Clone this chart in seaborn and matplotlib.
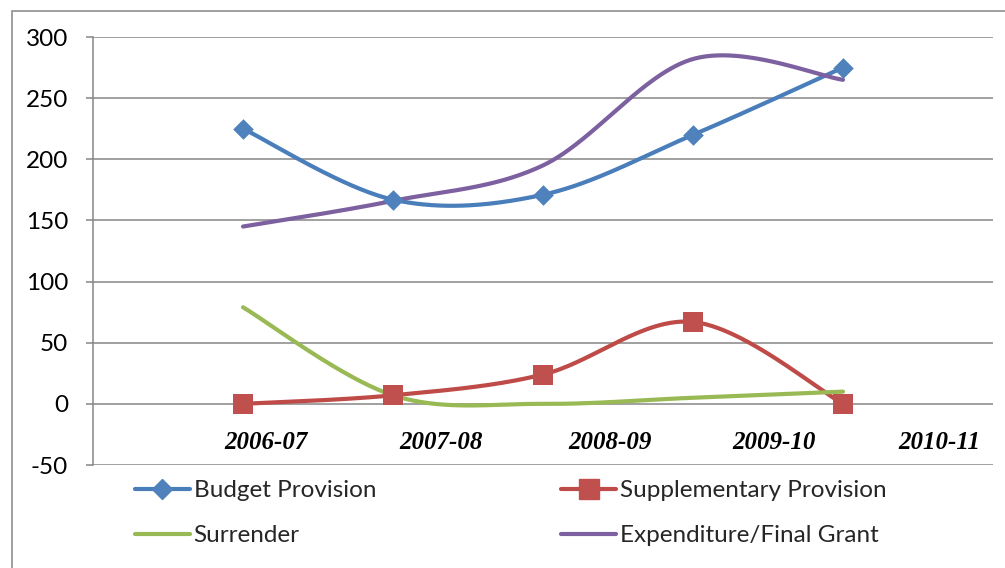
import numpy as np
import matplotlib
matplotlib.use("Agg")
import matplotlib.pyplot as plt
from matplotlib.lines import Line2D
from matplotlib.patches import Rectangle
import seaborn as sns

# Year labels and the four series (Rs. in crore)
years = ["2006-07", "2007-08", "2008-09", "2009-10", "2010-11"]
budget_provision = [225, 167, 171, 220, 275]
supplementary_provision = [0, 7, 24, 67, 0]
surrender = [79, 7, 0, 5, 10]
expenditure_final_grant = [145, 166, 195, 282, 265]

y_ticks = [-50, 0, 50, 100, 150, 200, 250, 300]


def smooth_curve(xs, ys, n=60):
    """Bezier smoothing through every point (Catmull-Rom style)."""
    pts = np.column_stack([xs, ys]).astype(float)
    ext = np.vstack([pts[0], pts, pts[-1]])
    t = np.linspace(0, 1, n)[:, None]
    segs = []
    for i in range(len(pts) - 1):
        p0, p1, p2, p3 = ext[i], ext[i + 1], ext[i + 2], ext[i + 3]
        c1 = p1 + (p2 - p0) / 6.0
        c2 = p2 - (p3 - p1) / 6.0
        seg = ((1 - t) ** 3) * p1 + 3 * ((1 - t) ** 2) * t * c1 \
            + 3 * (1 - t) * t ** 2 * c2 + t ** 3 * p2
        segs.append(seg if i == 0 else seg[1:])
    out = np.vstack(segs)
    return out[:, 0], out[:, 1]


sns.set_style("white")
plt.rcParams["font.family"] = ["Lato", "DejaVu Sans"]

W, H = 1005, 568
fig = plt.figure(figsize=(W / 100, H / 100), dpi=100)
ax = fig.add_axes([93 / W, 1 - 465 / H, (993 - 93) / W, (465 - 37) / H])

grid_col = "#868686"
xpos = np.arange(1, len(budget_provision) + 1)

series = [
    ("Budget Provision", budget_provision, "#4A7EBB", "#4F81BD", "D", 10.5),
    ("Supplementary Provision", supplementary_provision, "#BE4B48", "#C0504D", "s", 14),
    ("Surrender", surrender, "#98B954", None, None, 0),
    ("Expenditure/Final Grant", expenditure_final_grant, "#7D60A0", None, None, 0),
]

handles = {}
for name, vals, lc, mc, mk, ms in series:
    sx, sy = smooth_curve(xpos, vals)
    sns.lineplot(x=sx, y=sy, sort=False, estimator=None, color=lc,
                 linewidth=3.0, ax=ax, zorder=3)
    if mk is not None:
        sns.scatterplot(x=xpos, y=vals, marker=mk, s=ms ** 2, color=mc,
                        edgecolor=mc, linewidth=0, ax=ax, zorder=4)
    handles[name] = Line2D([], [], color=lc, linewidth=3.0, marker=mk,
                           markersize=ms, markerfacecolor=mc,
                           markeredgecolor=mc, solid_capstyle="round")

ax.set_xlim(0, 6)
ax.set_ylim(-50, 300)
ax.set_yticks(y_ticks)
ax.set_yticklabels([str(v) for v in y_ticks])
ax.set_xticks([])
ax.yaxis.grid(True, color=grid_col, linewidth=1.1)
ax.set_axisbelow(True)
for side in ["top", "right", "bottom"]:
    ax.spines[side].set_visible(False)
ax.spines["left"].set_color(grid_col)
ax.spines["left"].set_linewidth(1.1)
ax.tick_params(axis="y", length=5, width=1.1, color=grid_col, pad=13,
               labelsize=17.5, labelcolor="black", left=True)

# Year labels sit just above the -50 line
label_x = [1.153, 2.32, 3.45, 4.54, 5.64]
for lx, yr in zip(label_x, years):
    ax.text(lx, -32, yr, ha="center", va="center", fontsize=18,
            fontweight="bold", fontstyle="italic",
            family=["Liberation Serif", "DejaVu Serif"], color="black")

order = ["Budget Provision", "Surrender", "Supplementary Provision",
         "Expenditure/Final Grant"]
leg = fig.legend([handles[k] for k in order], order, ncol=2,
                 loc="upper left", bbox_to_anchor=(135 / W, 1 - 480 / H),
                 frameon=False, fontsize=17.5, handlelength=2.26,
                 handletextpad=0.15, columnspacing=7.62, labelspacing=1.0,
                 borderpad=0, borderaxespad=0)

# Chart-area border
fig.add_artist(Rectangle((12 / W, -0.1), 1.2, 1.1 - 11 / H,
                         transform=fig.transFigure, fill=False,
                         edgecolor=grid_col, linewidth=1.1))

fig.savefig("out.png", dpi=100)
